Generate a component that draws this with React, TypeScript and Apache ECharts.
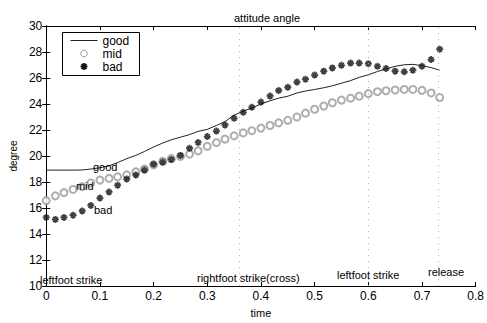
import React, { useEffect, useRef } from "react";
import * as echarts from "echarts";

const times = [
  0, 0.017, 0.033, 0.05, 0.067, 0.083, 0.1, 0.117, 0.133, 0.15, 0.167, 0.183, 0.2, 0.217, 0.233,
  0.25, 0.267, 0.283, 0.3, 0.317, 0.333, 0.35, 0.367, 0.383, 0.4, 0.417, 0.433, 0.45, 0.467,
  0.483, 0.5, 0.517, 0.533, 0.55, 0.567, 0.583, 0.6, 0.617, 0.633, 0.65, 0.667, 0.683, 0.7,
  0.717, 0.733,
];

const good = [
  18.92, 18.92, 18.92, 18.92, 18.93, 19.0, 19.1, 19.25, 19.5, 19.8, 20.05, 20.35, 20.7, 21.0,
  21.25, 21.45, 21.65, 21.9, 22.05, 22.35, 22.65, 23.15, 23.45, 23.7, 24.0, 24.25, 24.45, 24.6,
  24.85, 25.0, 25.12, 25.25, 25.4, 25.6, 25.8, 26.05, 26.25, 26.5, 26.7, 26.9, 27.02, 27.05,
  26.95, 26.8, 26.6,
];

const mid = [
  16.57, 16.94, 17.19, 17.43, 17.65, 17.93, 18.15, 18.28, 18.4, 18.55, 18.78, 19.0, 19.32, 19.6,
  19.8, 19.97, 20.15, 20.4, 20.75, 21.03, 21.3, 21.55, 21.78, 21.95, 22.15, 22.35, 22.55, 22.75,
  23.0, 23.3, 23.6, 23.85, 24.1, 24.3, 24.45, 24.6, 24.8, 24.95, 25.02, 25.08, 25.12, 25.12,
  25.05, 24.85, 24.5,
];

const bad = [
  15.28, 15.13, 15.28, 15.45, 15.78, 16.2, 16.77, 17.24, 17.76, 18.23, 18.55, 18.92, 19.37,
  19.54, 19.74, 20.04, 20.6, 21.05, 21.5, 21.92, 22.39, 22.9, 23.36, 23.75, 24.15, 24.62, 25.04,
  25.29, 25.69, 25.91, 26.23, 26.53, 26.78, 26.98, 27.15, 27.15, 27.1, 26.9, 26.73, 26.53,
  26.48, 26.6, 26.9, 27.42, 28.22,
];

const seriesNames = ["good", "mid", "bad"];
const eventTimes = [0.365, 0.602, 0.733];
const eventLabels = ["leftfoot strike", "rightfoot strike(cross)", "leftfoot strike", "release"];

const xTicks = { min: 0, max: 0.8, interval: 0.1 };
const yTicks = { min: 10, max: 30, interval: 2 };

const FONT = "Liberation Sans, Arial, sans-serif";
const MID_COLOR = "#9a9a9a";
const BAD_COLOR = "#111";

const asterisk = "path://M5,0L5,10M0,5L10,5M1.6,1.6L8.4,8.4M1.6,8.4L8.4,1.6";

export default function App() {
  const ref = useRef<HTMLDivElement>(null);

  useEffect(() => {
    if (!ref.current) return;
    const chart = echarts.init(ref.current, undefined, { renderer: "svg" });
    const pair = (ys: number[]) => ys.map((y, i) => [times[i], y]);
    const tickStyle = { show: true, inside: true, length: 4, lineStyle: { color: "#000" } };
    const axisLine = { show: true, lineStyle: { color: "#000", width: 1 } };
    const labelStyle = { color: "#000", fontFamily: FONT, fontSize: 12 };
    const txt = (text: string, left: number, top: number) => ({
      type: "text",
      left,
      top,
      z: 100,
      style: { text, fill: "#000", font: `11px ${FONT}` },
    });

    // hand-drawn legend (MATLAB style)
    const lx = 62;
    const ly = 32;
    const legend = {
      type: "group",
      left: lx,
      top: ly,
      z: 100,
      children: [
        { type: "rect", shape: { x: 0, y: 0, width: 77, height: 43 }, style: { fill: "#fff", stroke: "#000", lineWidth: 1 } },
        { type: "line", shape: { x1: 8, y1: 8, x2: 35, y2: 8 }, style: { stroke: "#222", lineWidth: 1 } },
        { type: "circle", shape: { cx: 21.5, cy: 21, r: 3.3 }, style: { fill: "none", stroke: MID_COLOR, lineWidth: 1 } },
        { type: "line", shape: { x1: 21.5, y1: 30.5, x2: 21.5, y2: 37.5 }, style: { stroke: BAD_COLOR, lineWidth: 1.8 } },
        { type: "line", shape: { x1: 18, y1: 34, x2: 25, y2: 34 }, style: { stroke: BAD_COLOR, lineWidth: 1.8 } },
        { type: "line", shape: { x1: 19, y1: 31.5, x2: 24, y2: 36.5 }, style: { stroke: BAD_COLOR, lineWidth: 1.8 } },
        { type: "line", shape: { x1: 19, y1: 36.5, x2: 24, y2: 31.5 }, style: { stroke: BAD_COLOR, lineWidth: 1.8 } },
        { type: "text", x: 40, y: 8, style: { text: seriesNames[0], fill: "#000", font: `12px ${FONT}`, verticalAlign: "middle" } },
        { type: "text", x: 40, y: 21, style: { text: seriesNames[1], fill: "#000", font: `12px ${FONT}`, verticalAlign: "middle" } },
        { type: "text", x: 40, y: 34, style: { text: seriesNames[2], fill: "#000", font: `12px ${FONT}`, verticalAlign: "middle" } },
      ],
    };

    chart.setOption({
      animation: false,
      backgroundColor: "#fff",
      title: {
        text: "attitude angle",
        left: 262,
        top: 7,
        textAlign: "center",
        textStyle: { color: "#000", fontFamily: FONT, fontSize: 11, fontWeight: "normal" },
      },
      grid: { left: 45, right: 7, top: 26, bottom: 27 },
      xAxis: [
        {
          type: "value",
          ...xTicks,
          name: "time",
          nameLocation: "middle",
          nameGap: 20,
          nameTextStyle: { color: "#000", fontFamily: FONT, fontSize: 11 },
          axisLine,
          axisTick: tickStyle,
          splitLine: { show: false },
          axisLabel: { ...labelStyle, margin: 4, formatter: (v: number) => String(Math.round(v * 10) / 10) },
        },
        {
          type: "value",
          position: "top",
          ...xTicks,
          axisLine,
          axisTick: tickStyle,
          splitLine: { show: false },
          axisLabel: { show: false },
        },
      ],
      yAxis: [
        {
          type: "value",
          ...yTicks,
          name: "degree",
          nameLocation: "middle",
          nameGap: 27,
          nameRotate: 90,
          nameTextStyle: { color: "#000", fontFamily: FONT, fontSize: 10 },
          axisLine,
          axisTick: tickStyle,
          splitLine: { show: false },
          axisLabel: { ...labelStyle, margin: 4 },
        },
        {
          type: "value",
          position: "right",
          ...yTicks,
          axisLine,
          axisTick: tickStyle,
          splitLine: { show: false },
          axisLabel: { show: false },
        },
      ],
      series: [
        {
          name: seriesNames[0],
          type: "line",
          data: pair(good),
          symbol: "none",
          lineStyle: { color: "#222", width: 1 },
          itemStyle: { color: "#222" },
          markLine: {
            silent: true,
            symbol: "none",
            label: { show: false },
            lineStyle: { color: "#aaa", type: [1, 5], width: 1 },
            data: eventTimes.map((t) => ({ xAxis: t })),
          },
          z: 3,
        },
        {
          name: seriesNames[1],
          type: "scatter",
          data: pair(mid),
          symbol: "emptyCircle",
          symbolSize: 7,
          itemStyle: { color: MID_COLOR, borderColor: MID_COLOR, borderWidth: 1 },
          z: 2,
        },
        {
          name: seriesNames[2],
          type: "scatter",
          data: pair(bad),
          symbol: asterisk,
          symbolSize: 7,
          itemStyle: { color: BAD_COLOR, borderColor: BAD_COLOR, borderWidth: 1.8 },
          z: 4,
        },
      ],
      graphic: [
        legend,
        txt(seriesNames[0], 93, 161),
        txt(seriesNames[1], 76, 180),
        txt(seriesNames[2], 94, 204),
        txt(eventLabels[0], 40, 274),
        txt(eventLabels[1], 197, 272),
        txt(eventLabels[2], 337, 269),
        txt(eventLabels[3], 428, 266),
      ],
    });
    return () => chart.dispose();
  }, []);

  return <div ref={ref} style={{ width: 487, height: 323, position: "absolute", left: 0, top: 0 }} />;
}
